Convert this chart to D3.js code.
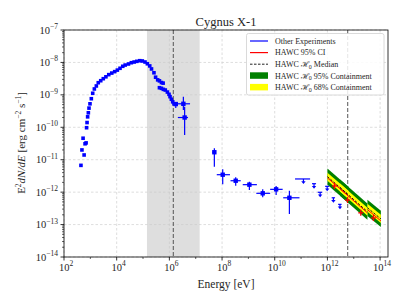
<!DOCTYPE html>
<html><head><meta charset="utf-8">
<script src="https://cdn.jsdelivr.net/npm/d3@7"></script>
<style>body{margin:0;background:#fff}svg{display:block}</style>
</head><body><svg id="c" width="407" height="305" font-family="'Liberation Serif', 'Times New Roman', 'DejaVu Serif', serif" font-weight="normal"></svg>
<script>
// ---- data ----
const curveE = [4.4e2,4.8e2,5.3e2,5.8e2,6.3e2,6.9e2,7.2e2,7.5e2,7.9e2,8.4e2,8.9e2,9.7e2,1.09e3,1.23e3,1.42e3,1.69e3,2.0e3,2.48e3,3.1e3,3.9e3,5.0e3,6.5e3,8.4e3,1.06e4,1.34e4,1.7e4,2.1e4,2.8e4,3.6e4,4.6e4,5.8e4,7.5e4,9.4e4,1.19e5,1.46e5,1.8e5,2.1e5,2.6e5,3.0e5,3.6e5,4.2e5,5.0e5,5.8e5,4.2e5,5.0e5,5.9e5,7.0e5,8.4e5,9.7e5,1.06e6,1.19e6,1.34e6,1.5e6,1.75e6];
const curveF = [6.7e-12,2.0e-11,4.6e-11,1.4e-11,3.1e-11,3.3e-11,9.7e-11,1.4e-10,2.1e-10,2.8e-10,3.9e-10,5.3e-10,7.6e-10,1.12e-9,1.52e-9,1.88e-9,2.37e-9,2.73e-9,3.15e-9,3.6e-9,4.2e-9,4.7e-9,5.2e-9,5.8e-9,6.6e-9,7.6e-9,8.3e-9,8.95e-9,9.8e-9,1.03e-8,1.08e-8,1.13e-8,1.11e-8,1.03e-8,9.1e-9,7.8e-9,6.3e-9,4.8e-9,3.5e-9,2.9e-9,2.7e-9,2.4e-9,2.3e-9,1.66e-9,1.59e-9,1.48e-9,1.41e-9,1.22e-9,1.04e-9,8.8e-10,7.3e-10,6.1e-10,5.3e-10,5.2e-10];

const ptE    = [3.4e6, 3.8e6, 5.1e7, 1.06e8, 3.3e8, 1.09e9, 3.5e9, 1.13e10, 3.6e10, 1.75e6];
const ptF    = [5.3e-10, 2.0e-10, 1.7e-11, 3.45e-12, 2.25e-12, 1.7e-12, 9.2e-13, 1.22e-12, 6.7e-13, 5.2e-10];
const ptElo  = [1.9e6, 2.1e6, 4.3e7, 6.3e7, 2.1e8, 6.1e8, 2.0e9, 6.7e9, 2.1e10, 1.75e6];
const ptEhi  = [6.1e6, 5.1e6, 5.8e7, 2.0e8, 5.1e8, 2.1e9, 6.7e9, 2.0e10, 8.7e10, 1.75e6];
const ptFlo  = [3.4e-10, 5.8e-11, 6.1e-12, 1.75e-12, 1.58e-12, 1.16e-12, 6.9e-13, 8.2e-13, 2.1e-13, 3.9e-10];
const ptFhi  = [8.8e-10, 4.3e-10, 2.25e-11, 5.1e-12, 2.87e-12, 2.1e-12, 1.22e-12, 1.55e-12, 1.1e-12, 5.2e-10];

const ulE   = [1.23e11, 3.1e11, 5.3e11, 9.8e11, 1.69e12, 3.0e12];
const ulF   = [2.55e-12, 1.82e-12, 9.9e-13, 1.51e-12, 6.7e-13, 4.2e-13];
const ulElo = [5.9e10, 2.6e11, 4.3e11, 8.2e11, 1.45e12, 2.55e12];
const ulEhi = [2.2e11, 3.7e11, 6.3e11, 1.17e12, 1.95e12, 3.45e12];

const segE0 = [1.0e12, 3.0e12, 3.3e13];
const segE1 = [6.3e12, 3.3e13, 1.07e14];
const segF0 = [3.0e-12, 1.39e-12, 3.3e-13];
const segF1 = [8.3e-13, 2.5e-13, 1.5e-13];
const ciF0  = [2.75e-12, 1.27e-12, 2.9e-13];
const ciF1  = [7.6e-13, 2.3e-13, 1.3e-13];
const band68 = [1.33, 1.33, 1.33];
const band95 = [1.78, 1.78, 1.78];

const hawcE = [1.85e12, 5.8e12, 1.85e13, 5.6e13];
const hawcF = [1.55e-12, 5.7e-13, 2.3e-13, 1.6e-13];

const greyBand = [1.41e5, 1.41e7];
const vLines = [1.41e6, 5.9e12];

const xTicks = [1e2,1e4,1e6,1e8,1e10,1e12,1e14];
const xTickExp = ["2","4","6","8","10","12","14"];
const yTicks = [1e-14,1e-13,1e-12,1e-11,1e-10,1e-9,1e-8,1e-7];
const yTickExp = ["−14","−13","−12","−11","−10","−9","−8","−7"];

const legendItems = [
  {label:"Other Experiments", type:"line", color:"#0000ff"},
  {label:"HAWC 95% CI", type:"line", color:"#ff0000"},
  {label:"HAWC ℋ|0| Median", type:"dash", color:"#222"},
  {label:"HAWC ℋ|0| 95% Containment", type:"patch", color:"#008000"},
  {label:"HAWC ℋ|0| 68% Containment", type:"patch", color:"#ffff00"}
];

// ---- drawing ----
const svg = d3.select("#c");
const L=64, R=388, T=30, B=257;
const x = d3.scaleLog().domain([1e2, Math.pow(10,14.3)]).range([L,R]);
const y = d3.scaleLog().domain([1e-14,1e-7]).range([B,T]);
const txtCol = "#262626";

// grid
const g = svg.append("g");
g.selectAll("line.gx").data(xTicks).join("line")
  .attr("x1",d=>x(d)).attr("x2",d=>x(d)).attr("y1",T).attr("y2",B)
  .attr("stroke","#cfcfcf").attr("stroke-width",0.7).attr("stroke-dasharray","2.5,2");
g.selectAll("line.gy").data(yTicks).join("line")
  .attr("x1",L).attr("x2",R).attr("y1",d=>y(d)).attr("y2",d=>y(d))
  .attr("stroke","#cfcfcf").attr("stroke-width",0.7).attr("stroke-dasharray","2.5,2");

// grey band
svg.append("rect").attr("x",x(greyBand[0])).attr("y",T)
  .attr("width",x(greyBand[1])-x(greyBand[0])).attr("height",B-T)
  .attr("fill","#c8c8c8").attr("fill-opacity",0.6);

// vertical dashed lines
svg.selectAll("line.v").data(vLines).join("line")
  .attr("x1",d=>x(d)).attr("x2",d=>x(d)).attr("y1",T).attr("y2",B)
  .attr("stroke","#555").attr("stroke-width",1).attr("stroke-dasharray","4,2");

// HAWC bands
function bandPoly(i, f){
  return [[x(segE0[i]), y(segF0[i]*f)],[x(segE1[i]), y(segF1[i]*f)],
          [x(segE1[i]), y(segF1[i]/f)],[x(segE0[i]), y(segF0[i]/f)]];
}
segE0.forEach((e,i)=>{
  svg.append("polygon").attr("points",bandPoly(i,band95[i]).join(" ")).attr("fill","#008000");
});
segE0.forEach((e,i)=>{
  svg.append("polygon").attr("points",bandPoly(i,band68[i]).join(" ")).attr("fill","#ffff00");
});
segE0.forEach((e,i)=>{
  svg.append("line").attr("x1",x(segE0[i])).attr("x2",x(segE1[i]))
    .attr("y1",y(ciF0[i])).attr("y2",y(ciF1[i])).attr("stroke","#ff0000").attr("stroke-width",1);
  svg.append("line").attr("x1",x(segE0[i])).attr("x2",x(segE1[i]))
    .attr("y1",y(segF0[i])).attr("y2",y(segF1[i])).attr("stroke","#111").attr("stroke-width",1)
    .attr("stroke-dasharray","2.5,1.5");
});
// HAWC red points
hawcE.forEach((e,i)=>{
  const cx=x(e), cy=y(hawcF[i]);
  svg.append("line").attr("x1",cx-2.5).attr("x2",cx+2.5).attr("y1",cy).attr("y2",cy).attr("stroke","#ff0000").attr("stroke-width",1.3);
  svg.append("line").attr("x1",cx).attr("x2",cx).attr("y1",cy-3).attr("y2",cy+3).attr("stroke","#ff0000").attr("stroke-width",1.3);
});

// blue curve squares
const blue="#0000ff";
svg.selectAll("rect.c").data(curveE).join("rect")
  .attr("x",(d,i)=>x(d)-1.8).attr("y",(d,i)=>y(curveF[i])-1.8)
  .attr("width",3.6).attr("height",3.6).attr("fill",blue);

// error bar points
ptE.forEach((e,i)=>{
  const cx=x(e), cy=y(ptF[i]);
  svg.append("line").attr("x1",x(ptElo[i])).attr("x2",x(ptEhi[i])).attr("y1",cy).attr("y2",cy).attr("stroke",blue).attr("stroke-width",1.2);
  svg.append("line").attr("x1",cx).attr("x2",cx).attr("y1",y(ptFhi[i])).attr("y2",y(ptFlo[i])).attr("stroke",blue).attr("stroke-width",1.2);
  svg.append("rect").attr("x",cx-2.2).attr("y",cy-2.2).attr("width",4.4).attr("height",4.4).attr("fill",blue);
});

// upper limits
ulE.forEach((e,i)=>{
  const cx=x(e), cy=y(ulF[i]);
  svg.append("line").attr("x1",x(ulElo[i])).attr("x2",x(ulEhi[i])).attr("y1",cy).attr("y2",cy).attr("stroke",blue).attr("stroke-width",1.2);
  svg.append("line").attr("x1",cx).attr("x2",cx).attr("y1",cy).attr("y2",cy+3).attr("stroke",blue).attr("stroke-width",1.2);
  svg.append("polygon").attr("points",[[cx-2.2,cy+2.2],[cx+2.2,cy+2.2],[cx,cy+5]].join(" ")).attr("fill",blue);
});

// frame
svg.append("rect").attr("x",L).attr("y",T).attr("width",R-L).attr("height",B-T)
  .attr("fill","none").attr("stroke","#000").attr("stroke-width",0.8);

// ticks
const xMinor=[1e3,1e5,1e7,1e9,1e11,1e13];
svg.selectAll("line.xt").data(xTicks).join("line")
  .attr("x1",d=>x(d)).attr("x2",d=>x(d)).attr("y1",B).attr("y2",B+3.5).attr("stroke","#000").attr("stroke-width",0.8);
svg.selectAll("line.xm").data(xMinor).join("line")
  .attr("x1",d=>x(d)).attr("x2",d=>x(d)).attr("y1",B).attr("y2",B+2).attr("stroke","#000").attr("stroke-width",0.6);
svg.selectAll("line.yt").data(yTicks).join("line")
  .attr("x1",L-3.5).attr("x2",L).attr("y1",d=>y(d)).attr("y2",d=>y(d)).attr("stroke","#000").attr("stroke-width",0.8);
const yMinor=[];
yTicks.slice(0,-1).forEach(t=>{for(let k=2;k<10;k++) yMinor.push(t*k);});
svg.selectAll("line.ym").data(yMinor).join("line")
  .attr("x1",L-2).attr("x2",L).attr("y1",d=>y(d)).attr("y2",d=>y(d)).attr("stroke","#000").attr("stroke-width",0.6);

// tick labels
xTicks.forEach((t,i)=>{
  const tx=svg.append("text").attr("x",x(t)+2).attr("y",270.5).attr("text-anchor","middle").attr("font-size",10.5).attr("fill",txtCol);
  tx.append("tspan").text("10");
  tx.append("tspan").attr("dy",-4.5).attr("font-size",7.5).text(xTickExp[i]);
});
yTicks.forEach((t,i)=>{
  const tx=svg.append("text").attr("x",58).attr("y",y(t)+3.5).attr("text-anchor","end").attr("font-size",10.5).attr("fill",txtCol);
  tx.append("tspan").text("10");
  tx.append("tspan").attr("dy",-4.5).attr("font-size",7.5).text(yTickExp[i]);
});

// axis labels & title
svg.append("text").attr("x",226).attr("y",288).attr("text-anchor","middle").attr("font-size",11.5).attr("fill",txtCol).text("Energy [eV]");
svg.append("text").attr("x",226).attr("y",25.5).attr("text-anchor","middle").attr("font-size",12.5).attr("fill",txtCol).text("Cygnus X-1");
const yl=svg.append("text").attr("transform","translate(25,143) rotate(-90)").attr("text-anchor","middle").attr("font-size",11).attr("fill",txtCol);
yl.append("tspan").text("E");
yl.append("tspan").attr("dy",-4).attr("font-size",7.5).text("2");
yl.append("tspan").attr("dy",4).attr("font-style","italic").text("dN/dE");
yl.append("tspan").text(" [erg cm");
yl.append("tspan").attr("dy",-4).attr("font-size",7.5).text("−2");
yl.append("tspan").attr("dy",4).text(" s");
yl.append("tspan").attr("dy",-4).attr("font-size",7.5).text("−1");
yl.append("tspan").attr("dy",4).text("]");

// legend
const lg=svg.append("g");
lg.append("rect").attr("x",246.5).attr("y",33.5).attr("width",137.5).attr("height",61.5).attr("rx",2)
  .attr("fill","#fff").attr("fill-opacity",0.85).attr("stroke","#d0d0d0").attr("stroke-width",0.8);
legendItems.forEach((it,i)=>{
  const cy=41+i*11.6;
  if(it.type==="line"){
    lg.append("line").attr("x1",250).attr("x2",268).attr("y1",cy).attr("y2",cy).attr("stroke",it.color).attr("stroke-width",1.2);
  } else if(it.type==="dash"){
    lg.append("line").attr("x1",250).attr("x2",268).attr("y1",cy).attr("y2",cy).attr("stroke",it.color).attr("stroke-width",1).attr("stroke-dasharray","2.5,1.5");
  } else {
    lg.append("rect").attr("x",250).attr("y",cy-3.5).attr("width",18).attr("height",6.5).attr("fill",it.color);
  }
  const tx=lg.append("text").attr("x",275).attr("y",cy+2.8).attr("font-size",8).attr("fill",txtCol);
  const parts=it.label.split("|");
  tx.append("tspan").text(parts[0]);
  if(parts.length>1){
    tx.append("tspan").attr("dy",1.8).attr("font-size",6).text(parts[1]);
    tx.append("tspan").attr("dy",-1.8).text(parts[2]);
  }
});
</script></body></html>
